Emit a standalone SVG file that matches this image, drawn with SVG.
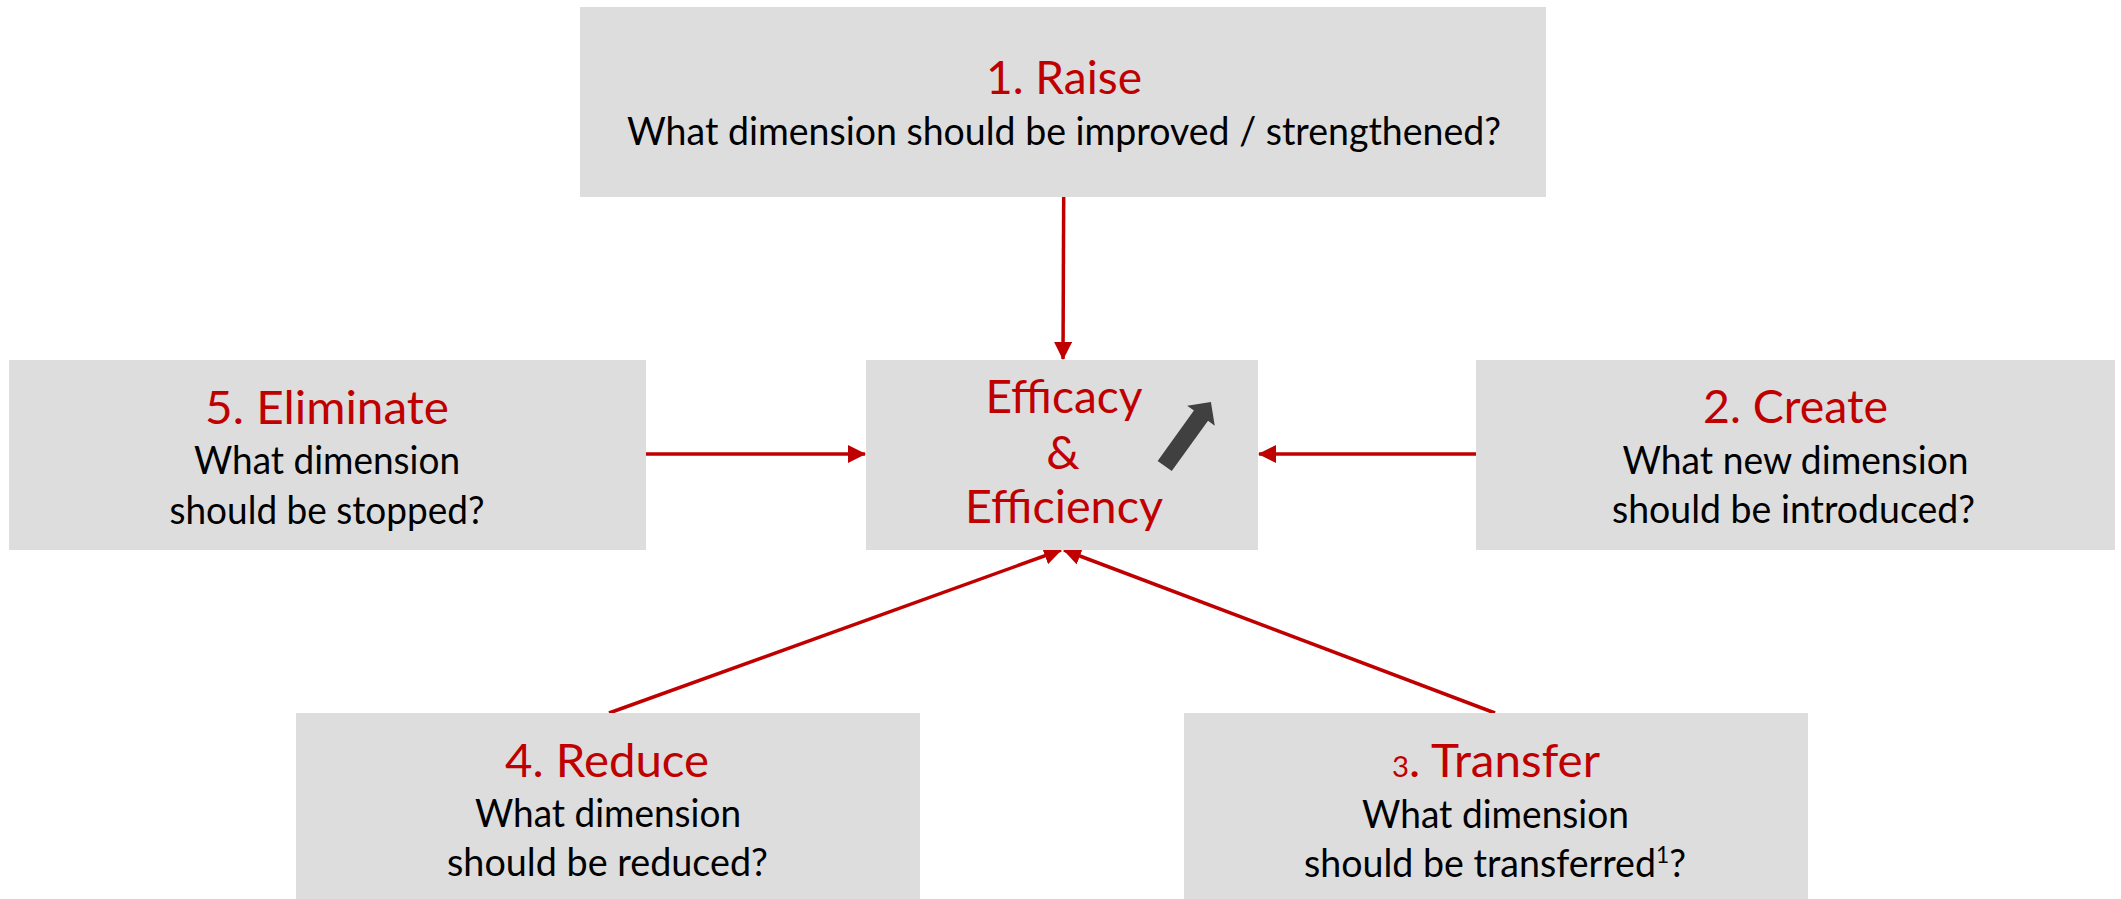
<svg xmlns="http://www.w3.org/2000/svg" width="2121" height="899" viewBox="0 0 2121 899">
<style>
.box{fill:#DDDDDD}
.t{font-family:Lato,"Open Sans","Liberation Sans",sans-serif;fill:#C00000;font-size:47px;text-anchor:middle}
.s{font-family:Lato,"Open Sans","Liberation Sans",sans-serif;fill:#000000;font-size:38px;text-anchor:middle}
.c{stroke:#C00000;stroke-width:3.5;fill:none}
</style>
<defs>
<marker id="ah" markerUnits="userSpaceOnUse" markerWidth="18" markerHeight="18" viewBox="0 0 18 18" refX="17" refY="9" orient="auto">
<path d="M0,0 L18,9 L0,18 Z" fill="#C00000"/>
</marker>
</defs>
<rect width="2121" height="899" fill="#FFFFFF"/>
<g id="connectors">
<line class="c" x1="1063.7" y1="197" x2="1063" y2="359" marker-end="url(#ah)"/>
<line class="c" x1="646" y1="454" x2="865" y2="454" marker-end="url(#ah)"/>
<line class="c" x1="1476" y1="454" x2="1259" y2="454" marker-end="url(#ah)"/>
<line class="c" x1="609" y1="713" x2="1061" y2="550" marker-end="url(#ah)"/>
<line class="c" x1="1495" y1="713" x2="1064" y2="550" marker-end="url(#ah)"/>
</g>
<g id="raise">
<rect class="box" x="580" y="7" width="966" height="190"/>
<text class="t" x="1064" y="94" textLength="156" lengthAdjust="spacingAndGlyphs">1. Raise</text>
<text class="s" x="1064" y="145" textLength="874" lengthAdjust="spacingAndGlyphs">What dimension should be improved / strengthened?</text>
</g>
<g id="eliminate">
<rect class="box" x="9" y="360" width="637" height="190"/>
<text class="t" x="327" y="424" textLength="244" lengthAdjust="spacingAndGlyphs">5. Eliminate</text>
<text class="s" x="327" y="474" textLength="266" lengthAdjust="spacingAndGlyphs">What dimension</text>
<text class="s" x="327" y="524" textLength="315" lengthAdjust="spacingAndGlyphs">should be stopped?</text>
</g>
<g id="center">
<rect class="box" x="866" y="360" width="392" height="190"/>
<text class="t" x="1064" y="413" textLength="157" lengthAdjust="spacingAndGlyphs">Efficacy</text>
<text class="t" x="1063" y="469">&amp;</text>
<text class="t" x="1064" y="523" textLength="198" lengthAdjust="spacingAndGlyphs">Efficiency</text>
<path d="M0,-8.7 L62,-8.7 L62,-17 L79,0 L62,17 L62,8.7 L0,8.7 Z" fill="#404040" transform="translate(1164.7,466) rotate(-54.2)"/>
</g>
<g id="create">
<rect class="box" x="1476" y="360" width="639" height="190"/>
<text class="t" x="1795.5" y="423" textLength="185" lengthAdjust="spacingAndGlyphs">2. Create</text>
<text class="s" x="1795.5" y="474" textLength="346" lengthAdjust="spacingAndGlyphs">What new dimension</text>
<text class="s" x="1793.5" y="523" textLength="363" lengthAdjust="spacingAndGlyphs">should be introduced?</text>
</g>
<g id="reduce">
<rect class="box" x="296" y="713" width="624" height="190"/>
<text class="t" x="607" y="777" textLength="204" lengthAdjust="spacingAndGlyphs">4. Reduce</text>
<text class="s" x="608" y="827" textLength="266" lengthAdjust="spacingAndGlyphs">What dimension</text>
<text class="s" x="607.5" y="876" textLength="321" lengthAdjust="spacingAndGlyphs">should be reduced?</text>
</g>
<g id="transfer">
<rect class="box" x="1184" y="713" width="624" height="190"/>
<text class="t" x="1496" y="777" textLength="208" lengthAdjust="spacingAndGlyphs"><tspan font-size="29">3</tspan>. Transfer</text>
<text class="s" x="1495.5" y="828" textLength="267" lengthAdjust="spacingAndGlyphs">What dimension</text>
<text class="s" x="1495" y="877" textLength="382" lengthAdjust="spacingAndGlyphs">should be transferred<tspan font-size="23" dy="-14">1</tspan><tspan dy="14">?</tspan></text>
</g>
</svg>
